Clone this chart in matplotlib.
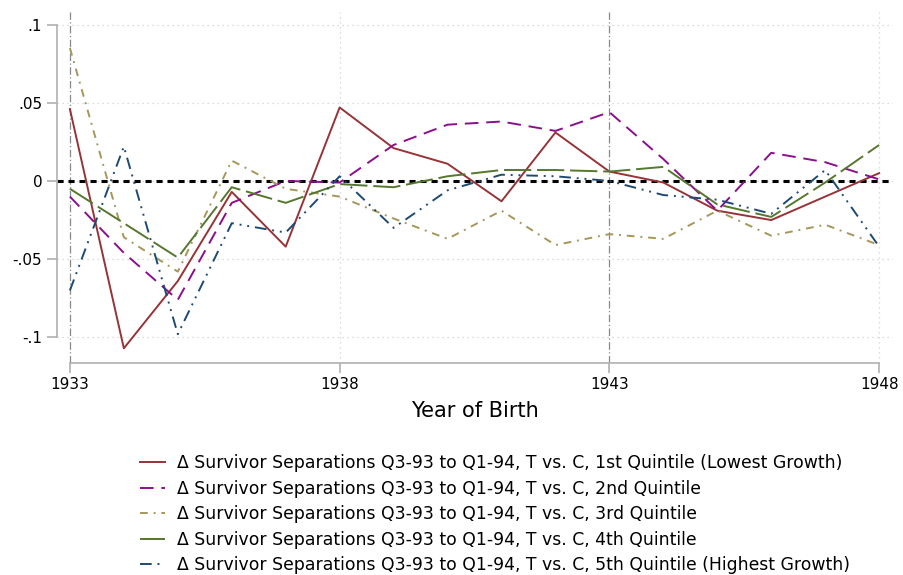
import numpy as np
import matplotlib
matplotlib.use("Agg")
import matplotlib.pyplot as plt

years = list(range(1933, 1949))

q1 = [0.046, -0.107, -0.064, -0.007, -0.042, 0.047, 0.021, 0.011,
      -0.013, 0.031, 0.006, -0.001, -0.019, -0.025, -0.010, 0.005]
q2 = [-0.010, -0.046, -0.076, -0.014, 0.000, -0.001, 0.023, 0.036,
      0.038, 0.032, 0.044, 0.014, -0.019, 0.018, 0.012, 0.001]
q3 = [0.085, -0.036, -0.058, 0.013, -0.005, -0.010, -0.024, -0.037,
      -0.019, -0.041, -0.034, -0.037, -0.019, -0.035, -0.028, -0.041]
q4 = [-0.005, -0.027, -0.049, -0.004, -0.014, -0.002, -0.004, 0.003,
      0.007, 0.007, 0.006, 0.009, -0.015, -0.023, -0.001, 0.023]
q5 = [-0.070, 0.022, -0.098, -0.027, -0.033, 0.003, -0.030, -0.006,
      0.004, 0.003, 0.000, -0.009, -0.012, -0.021, 0.007, -0.042]

prefix = "\u0394 Survivor Separations Q3-93 to Q1-94, T vs. C, "
labels = [prefix + "1st Quintile (Lowest Growth)",
          prefix + "2nd Quintile",
          prefix + "3rd Quintile",
          prefix + "4th Quintile",
          prefix + "5th Quintile (Highest Growth)"]

xticks = [1933, 1938, 1943, 1948]
yticks = [-0.1, -0.05, 0, 0.05, 0.1]
ytick_labels = ["-.1", "-.05", "0", ".05", ".1"]

fig = plt.figure(figsize=(9.04, 5.75), dpi=100)
ax = fig.add_axes([0.063, 0.369, 0.925, 0.610])

gray = "#b0b0b0"
# grid
for y in yticks:
    ax.axhline(y, color="#d0d0d0", lw=0.9, ls=(0, (1, 3)), zorder=0)
for x in [1938, 1948]:
    ax.axvline(x, color="#d0d0d0", lw=0.9, ls=(0, (1, 3)), zorder=0)
for x in [1933, 1943]:
    ax.axvline(x, color="#888888", lw=0.9, ls=(0, (6, 2, 1, 2)), zorder=1)

ax.axhline(0, color="black", lw=2.2, ls=(0, (2, 1.6)), zorder=2)

ax.plot(years, q1, color="#973336", lw=1.4, ls="-", label=labels[0], zorder=3)
ax.plot(years, q2, color="#8b0e8c", lw=1.4, ls=(0, (7, 4)), label=labels[1], zorder=3)
ax.plot(years, q3, color="#a5975a", lw=1.4, ls=(0, (4, 3, 1, 3)), label=labels[2], zorder=3)
ax.plot(years, q4, color="#56772e", lw=1.4, ls=(0, (14, 3)), label=labels[3], zorder=3)
ax.plot(years, q5, color="#1d4a72", lw=1.4, ls=(0, (6, 3, 1, 3, 1, 3)), label=labels[4], zorder=3)

ax.set_xlim(1932.76, 1948.26)
ax.set_ylim(-0.1163, 0.108)

for s in ["top", "right"]:
    ax.spines[s].set_visible(False)
ax.spines["left"].set_bounds(-0.1, 0.1)
ax.spines["bottom"].set_bounds(1933, 1948)
for s in ["left", "bottom"]:
    ax.spines[s].set_color(gray)
    ax.spines[s].set_linewidth(1.2)

ax.set_xticks(xticks)
ax.set_yticks(yticks)
ax.set_yticklabels(ytick_labels)
ax.tick_params(axis="both", colors=gray, labelcolor="black", labelsize=11,
               length=7, width=1.2)
ax.set_xlabel("Year of Birth", fontsize=15, labelpad=6)

fig.legend(loc="upper left", bbox_to_anchor=(0.1549, 0.2104), frameon=False,
           fontsize=12.4, handlelength=1.46, handletextpad=0.7,
           labelspacing=0.44, borderaxespad=0, borderpad=0)

fig.savefig("out.png", dpi=100)
